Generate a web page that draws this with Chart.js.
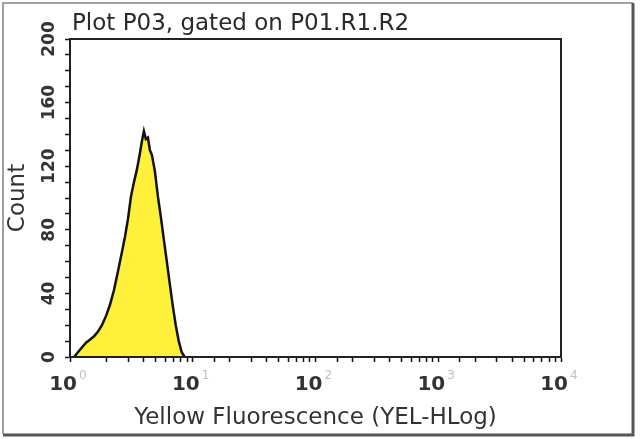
<!DOCTYPE html>
<html>
<head>
<meta charset="utf-8">
<title>Plot P03</title>
<script src="https://cdn.jsdelivr.net/npm/chart.js@4.4.1/dist/chart.umd.min.js"></script>
<style>
  html, body { margin: 0; padding: 0; background: #fff; }
  canvas { display: block; }
</style>
</head>
<body>
<canvas id="histChart" width="640" height="439"></canvas>
<script>
// channel values (YEL-HLog) and counts
const fluorescence = [1.08, 1.16, 1.25, 1.35, 1.46, 1.57, 1.69, 1.82, 1.97, 2.12, 2.28, 2.46,
    2.65, 2.81, 2.97, 3.14, 3.32, 3.51, 3.71, 3.86, 4.00, 4.15, 4.31, 4.48, 4.65, 4.91,
    5.20, 5.50, 5.81, 6.15, 6.50, 6.88, 7.27, 7.69, 8.13, 8.60];
const counts = [0, 3, 6, 9, 11, 13, 16, 20, 26, 33, 42, 54,
    66, 76, 87, 101, 110, 118, 128, 136, 142, 137, 138, 130, 127, 117,
    101, 88, 74, 60, 46, 32, 20, 10, 3, 0];

const xTickValues = [1, 10, 100, 1000, 10000];
const xTickExponents = ['0', '1', '2', '3', '4'];
const yTickValues = [0, 40, 80, 120, 160, 200];

const titleText = 'Plot P03, gated on P01.R1.R2';
const xTitle = 'Yellow Fluorescence (YEL-HLog)';
const yTitle = 'Count';

const points = fluorescence.map((v, i) => ({ x: v, y: counts[i] }));

// frame, plot box, title and tick labels
const decorations = {
    id: 'decorations',
    beforeDraw(chart) {
        const ctx = chart.ctx;
        ctx.save();
        ctx.fillStyle = '#fff';
        ctx.fillRect(0, 0, chart.width, chart.height);
        ctx.strokeStyle = '#a0a0a0';
        ctx.lineWidth = 2;
        ctx.beginPath();
        ctx.moveTo(3, 434);
        ctx.lineTo(3, 3);
        ctx.lineTo(633, 3);
        ctx.stroke();
        ctx.strokeStyle = '#555';
        ctx.lineWidth = 3;
        ctx.beginPath();
        ctx.moveTo(633, 3);
        ctx.lineTo(633, 435);
        ctx.lineTo(3, 435);
        ctx.stroke();
        ctx.restore();
    },
    afterDraw(chart) {
        const ctx = chart.ctx;
        const area = chart.chartArea;
        const xs = chart.scales.x;
        const ys = chart.scales.y;
        ctx.save();
        ctx.strokeStyle = '#222';
        ctx.lineWidth = 2;
        ctx.strokeRect(area.left, area.top, area.right - area.left, area.bottom - area.top);

        ctx.fillStyle = '#2a2a2a';
        ctx.font = '23px "DejaVu Sans"';
        ctx.textAlign = 'left';
        ctx.textBaseline = 'alphabetic';
        ctx.fillText(titleText, 72, 30);

        xTickValues.forEach((v, i) => {
            const px = xs.getPixelForValue(v);
            ctx.font = 'bold 20px "DejaVu Sans"';
            ctx.fillStyle = '#333';
            ctx.textAlign = 'right';
            ctx.textBaseline = 'middle';
            ctx.fillText('10', px + 7, 385);
            ctx.font = '12px "DejaVu Sans"';
            ctx.fillStyle = '#c0c0c0';
            ctx.textAlign = 'left';
            ctx.fillText(xTickExponents[i], px + 9, 376);
        });

        yTickValues.forEach(v => {
            const py = ys.getPixelForValue(v);
            ctx.save();
            ctx.translate(50, py);
            ctx.rotate(-Math.PI / 2);
            ctx.font = 'bold 17px "DejaVu Sans"';
            ctx.fillStyle = '#333';
            ctx.textAlign = 'center';
            ctx.textBaseline = 'middle';
            ctx.fillText(String(v), 0, 0);
            ctx.restore();
        });
        ctx.restore();
    }
};

new Chart(document.getElementById('histChart').getContext('2d'), {
    type: 'line',
    data: {
        datasets: [{
            label: 'P03',
            data: points,
            fill: 'origin',
            backgroundColor: '#fff03c',
            borderColor: '#111',
            borderWidth: 2.5,
            pointRadius: 0,
            tension: 0
        }]
    },
    options: {
        responsive: false,
        animation: false,
        layout: { padding: { left: 0, right: 79, top: 39, bottom: 0 } },
        plugins: {
            legend: { display: false },
            tooltip: { enabled: false }
        },
        scales: {
            x: {
                type: 'logarithmic',
                min: 1,
                max: 10000,
                afterFit: s => { s.height = 82; },
                ticks: { display: false },
                grid: { drawOnChartArea: false, drawTicks: true, tickLength: 5, tickColor: '#111', tickWidth: 1.5 },
                border: { color: '#111', width: 2 },
                title: {
                    display: true,
                    text: xTitle,
                    color: '#333',
                    font: { family: 'DejaVu Sans', size: 23 },
                    padding: { top: 0, bottom: 7 }
                }
            },
            y: {
                min: 0,
                max: 200,
                afterFit: s => { s.width = 70; },
                ticks: { display: false, stepSize: 10 },
                grid: { drawOnChartArea: false, drawTicks: true, tickLength: 5, tickColor: '#111', tickWidth: 1.5 },
                border: { color: '#111', width: 2 },
                title: {
                    display: true,
                    text: yTitle,
                    color: '#333',
                    font: { family: 'DejaVu Sans', size: 23 },
                    padding: { top: 4, bottom: 0 }
                }
            }
        }
    },
    plugins: [decorations]
});
</script>
</body>
</html>
